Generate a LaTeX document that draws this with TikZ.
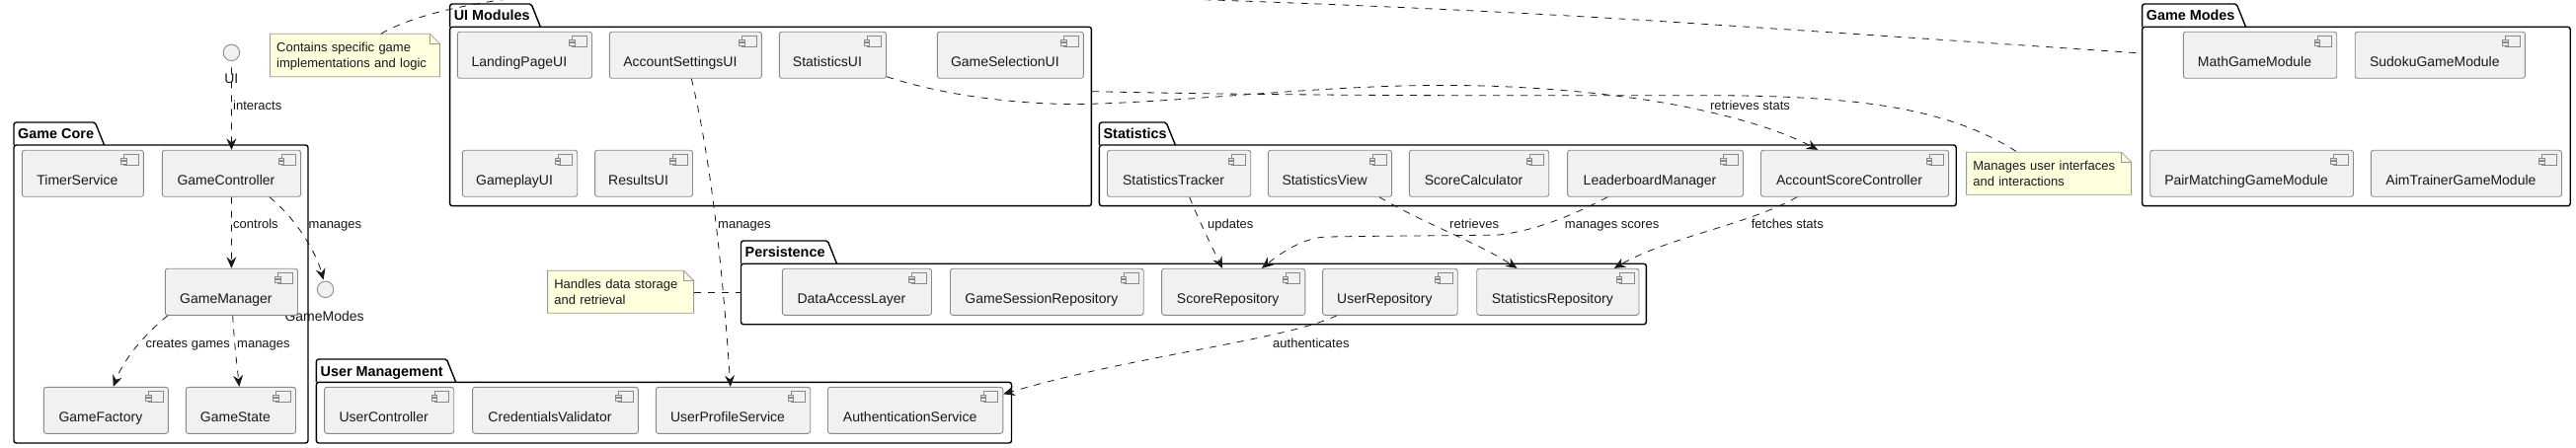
\documentclass[tikz,border=0pt]{standalone}
\usepackage{fontspec}
\setmainfont{Liberation Sans}
\usetikzlibrary{arrows.meta}
\definecolor{boxfill}{HTML}{F1F1F1}
\definecolor{boxline}{HTML}{8A8A8A}
\definecolor{notefill}{HTML}{FEFFDD}
\definecolor{noteline}{HTML}{9A9A9A}
\definecolor{ink}{HTML}{181818}
\tikzset{
  compbox/.style={draw=boxline,fill=boxfill,line width=0.9pt,rounded corners=2.5pt,inner sep=0pt,font=\fontsize{14}{16}\selectfont,text=ink},
  iconbox/.style={draw=boxline,fill=boxfill,line width=0.8pt},
  pkgbody/.style={draw=black,line width=1.4pt,rounded corners=2.5pt,inner sep=0pt},
  pkgtab/.style={draw=black,line width=1.4pt,line join=round},
  pkgtitle/.style={anchor=base west,inner sep=0pt,font=\fontsize{14.4}{16}\selectfont\bfseries,text=black},
  notebody/.style={inner sep=0pt,font=\fontsize{13}{15.6}\selectfont,align=left,text=ink},
  noteshape/.style={draw=noteline,fill=notefill,line width=0.8pt},
  conn/.style={draw=ink,line width=0.8pt,dash pattern=on 7pt off 7pt},
  arrowconn/.style={conn,-{Stealth[length=11.5pt,width=10pt,inset=4pt,color=ink]}},
  edgelabel/.style={anchor=base west,inner sep=0pt,font=\fontsize{13}{15}\selectfont,text=ink},
  iface/.style={circle,draw=boxline,fill=boxfill,line width=0.9pt,minimum size=16.5pt,inner sep=0pt},
  ifacelabel/.style={anchor=base,inner sep=0pt,font=\fontsize{14}{16}\selectfont,text=ink},
}
% #1 id, #2 x1, #3 x2, #4 y1, #5 y2, #6 text
\newcommand\comp[6]{%
  \pgfmathsetmacro\cw{#3-#2}\pgfmathsetmacro\ch{#5-#4}%
  \pgfmathsetmacro\cx{(#2+#3)/2}\pgfmathsetmacro\cy{(#4+#5)/2}%
  \node[compbox,minimum width=\cw pt,minimum height=\ch pt] (#1) at (\cx,\cy)
    {\makebox[0pt][c]{\hspace*{-11pt}\raisebox{-11.5pt}[0pt][0pt]{#6}}};
  \draw[iconbox] (#3-19.7,#4+4.5) rectangle (#3-5,#4+15.5);
  \draw[iconbox] (#3-22.7,#4+7.7) rectangle (#3-17.5,#4+10.3);
  \draw[iconbox] (#3-22.7,#4+11.1) rectangle (#3-17.5,#4+13.7);
}
% #1 id, #2 left, #3 right, #4 tab top, #5 body top, #6 bottom, #7 tab right, #8 title
\newcommand\pkg[8]{%
  \pgfmathsetmacro\cw{#3-#2}\pgfmathsetmacro\ch{#6-#5}%
  \pgfmathsetmacro\cx{(#2+#3)/2}\pgfmathsetmacro\cy{(#5+#6)/2}%
  \node[pkgbody,minimum width=\cw pt,minimum height=\ch pt] (#1) at (\cx,\cy) {};
  \draw[pkgtab] (#2,#5) -- (#2,#4+2.5) arc[start angle=180,end angle=90,radius=2.5pt] -- (#7-11,#4)
     arc[start angle=90,end angle=20,radius=2.5pt] -- (#7,#5);
  \node[pkgtitle] (#1title) at (#2+4,#4+17) {#8};
}
% #1 id, #2 x1, #3 x2, #4 y1, #5 y2, #6 first line, #7 second line
\newcommand\notebox[7]{%
  \draw[noteshape] (#2,#4) -- (#3-10,#4) -- (#3,#4+10) -- (#3,#5) -- (#2,#5) -- cycle;
  \draw[noteshape,fill=none] (#3-10,#4) -- (#3-10,#4+10) -- (#3,#4+10);
  \pgfmathsetmacro\tw{#3-#2-13.4}\pgfmathsetmacro\ch{#5-#4}%
  \pgfmathsetmacro\cx{(#2+#3)/2}\pgfmathsetmacro\cy{(#4+#5)/2}%
  \node[notebody,text width=\tw pt,inner xsep=6.7pt,minimum height=\ch pt] (#1) at (\cx,\cy)
    {\rule{0pt}{12.4pt}#6\\#7\rule[-3pt]{0pt}{3pt}};
}
\begin{document}
\begin{tikzpicture}[x=1pt,y=-1pt]
\useasboundingbox (0,0) rectangle (2609,454);
\fill[white] (0,0) rectangle (2609,454);

% interface labels sit under the packages and boxes
\node[ifacelabel] (uilabel) at (234.3,84.4) {UI};
\node[ifacelabel] (modeslabel) at (328.6,325) {GameModes};

% packages
\pkg{core}{14}{312}{124}{147}{449}{105.6}{Game Core}
\pkg{uimod}{455.6}{1105.4}{4}{27.3}{208.7}{547.4}{UI Modules}
\pkg{persist}{750.5}{1667.4}{244}{267.3}{328.7}{847.6}{Persistence}
\pkg{usermgmt}{320.4}{1024.5}{364}{387.3}{449}{461.7}{User Management}
\pkg{stats}{1113.4}{1981.2}{124}{147}{208.7}{1190.4}{Statistics}
\pkg{modes}{2169.6}{2603.2}{4}{27.3}{208.7}{2274.5}{Game Modes}

% interfaces
\node[iface] (ui) at (234.4,53.3) {};
\node[iface] (gamemodes) at (329.6,293.3) {};

% Game Core
\comp{timer}{22.4}{145.4}{152.3}{199.3}{TimerService}
\comp{gc}{164.3}{304.6}{152.3}{199.3}{GameController}
\comp{gm}{167.3}{301.5}{272.3}{319.3}{GameManager}
\comp{gf}{44.4}{170.4}{392.3}{439.3}{GameFactory}
\comp{gs}{188.3}{299.5}{392.3}{439.3}{GameState}

% UI Modules
\comp{landing}{463.3}{599.5}{32.3}{79.3}{LandingPageUI}
\comp{account}{617.3}{771.4}{32.3}{79.3}{AccountSettingsUI}
\comp{statui}{789.3}{897.6}{32.3}{79.3}{StatisticsUI}
\comp{gsel}{949.3}{1097.4}{32.3}{79.3}{GameSelectionUI}
\comp{gplay}{468.4}{584.7}{152.3}{199.3}{GameplayUI}
\comp{results}{602.6}{701.5}{152.3}{199.3}{ResultsUI}

% Persistence
\comp{dal}{792.3}{943.5}{272.3}{319.3}{DataAccessLayer}
\comp{gsr}{962.5}{1158.2}{272.3}{319.3}{GameSessionRepository}
\comp{sr}{1176.6}{1321.8}{272.3}{319.3}{ScoreRepository}
\comp{ur}{1339.6}{1476.2}{272.3}{319.3}{UserRepository}
\comp{strepo}{1495.7}{1660}{272.3}{319.3}{StatisticsRepository}

% User Management
\comp{uc}{328.6}{459.7}{392.3}{439.3}{UserController}
\comp{cv}{478.6}{646.4}{392.3}{439.3}{CredentialsValidator}
\comp{ups}{664.3}{820.7}{392.3}{439.3}{UserProfileService}
\comp{auth}{838.5}{1015.8}{392.3}{439.3}{AuthenticationService}

% Statistics
\comp{st}{1121.5}{1266.7}{152.3}{199.3}{StatisticsTracker}
\comp{sv}{1284.5}{1409.6}{152.3}{199.3}{StatisticsView}
\comp{sc}{1427.4}{1568.7}{152.3}{199.3}{ScoreCalculator}
\comp{lm}{1587.6}{1765.5}{152.3}{199.3}{LeaderboardManager}
\comp{asc}{1783.5}{1973.6}{152.3}{199.3}{AccountScoreController}

% Game Modes
\comp{math}{2211.3}{2366.7}{32.3}{79.3}{MathGameModule}
\comp{sudoku}{2385.2}{2557.4}{32.3}{79.3}{SudokuGameModule}
\comp{pair}{2177.7}{2383.5}{152.3}{199.3}{PairMatchingGameModule}
\comp{aim}{2401.4}{2594.5}{152.3}{199.3}{AimTrainerGameModule}

% notes
\notebox{note1}{273.5}{445.4}{34.3}{77.7}{Contains specific game}{implementations and logic}
\notebox{note2}{554.6}{702.6}{274.3}{317.3}{Handles data storage}{and retrieval}
\notebox{note3}{1991.6}{2158.6}{154.3}{197.3}{Manages user interfaces}{and interactions}

% connectors
\draw[arrowconn] ([yshift=-6.5pt]ui.south) -- (gc.north);
\draw[arrowconn] (gc.south) -- (gm.north);
\draw[arrowconn] ([xshift=38.5pt]gc.south) .. controls (300,222) and (320,255) .. ([xshift=-2pt,yshift=1pt]gamemodes.north);
\draw[arrowconn] ([xshift=3pt]gm.south west) .. controls (145,340) and (125,365) .. ([xshift=7.4pt]gf.north);
\draw[arrowconn] ([xshift=1.3pt]gm.south) .. controls (237,345) and (240,370) .. ([xshift=-1.6pt]gs.north);
\draw[arrowconn] ([xshift=6pt]account.south) .. controls (722,170) and (733,290) .. ([xshift=-2.7pt]ups.north);
\draw[arrowconn] ([yshift=2pt]statui.south east) .. controls (960,98) and (1040,107) .. (1104,105.3)
   .. controls (1220,102) and (1360,84) .. (1489,86.7)
   .. controls (1560,88) and (1640,95) .. (1706,108)
   .. controls (1750,117) and (1800,130) .. ([xshift=-37.5pt]asc.north);
\draw[conn] ([yshift=25.3pt]uimod.east) .. controls (1300,97) and (1500,97) .. (1700,96.7)
   .. controls (1860,96) and (1965,104) .. ([xshift=-32pt]note3.north);
\begin{scope}
\clip (0,0) rectangle (2609,454);
\draw[conn] ([xshift=26.5pt]note1.north) .. controls (520,-42) and (1000,-8) .. (1228,0)
   .. controls (1400,6) and (1550,13) .. (1700,22.7)
   .. controls (1860,33) and (2020,44) .. ([yshift=64pt]modes.west);
\end{scope}
\draw[conn] ([yshift=-0.5pt]note2.east) -- ([yshift=1.7pt]persist.west);
\draw[arrowconn] ([xshift=10.6pt]st.south) .. controls (1215,225) and (1225,245) .. ([xshift=-11.2pt]sr.north);
\draw[arrowconn] ([xshift=50pt]sv.south) .. controls (1445,228) and (1495,245) .. ([xshift=-41.35pt]strepo.north);
\draw[arrowconn] ([xshift=-48.5pt]lm.south) .. controls (1580,225) and (1545,235) .. (1517.6,238)
   .. controls (1460,239) and (1400,239) .. (1345,240)
   .. controls (1320,240) and (1295,258) .. ([xshift=28.8pt]sr.north);
\draw[arrowconn] ([xshift=-58.55pt]asc.south) .. controls (1770,228) and (1690,240) .. ([xshift=57pt]strepo.north);
\draw[arrowconn] ([xshift=-54pt]ur.south) .. controls (1300,345) and (1150,360) .. ([yshift=16.5pt]auth.east);

% connector labels
\node[edgelabel] (l1) at (236,112) {interacts};
\node[edgelabel] (l2) at (236,232) {controls};
\node[edgelabel] (l3) at (312.5,232) {manages};
\node[edgelabel] (l4) at (147.4,352) {creates games};
\node[edgelabel] (l5) at (240,352) {manages};
\node[edgelabel] (l6) at (727,232) {manages};
\node[edgelabel] (l7) at (1731.8,112) {retrieves stats};
\node[edgelabel] (l8) at (1223,232) {updates};
\node[edgelabel] (l9) at (1468,232) {retrieves};
\node[edgelabel] (l10) at (1584.7,232) {manages scores};
\node[edgelabel] (l11) at (1773.6,232) {fetches stats};
\node[edgelabel] (l12) at (1289,352) {authenticates};
\end{tikzpicture}
\end{document}
